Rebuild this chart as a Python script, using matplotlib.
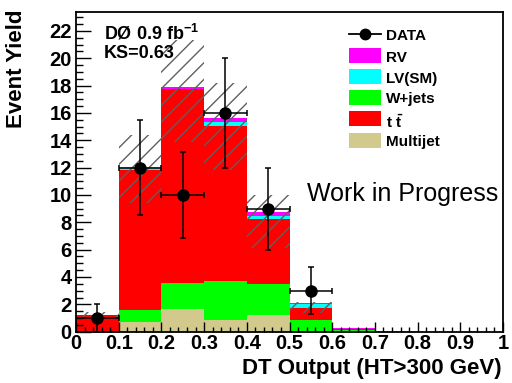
import numpy as np
import matplotlib.pyplot as plt
from matplotlib.lines import Line2D
from matplotlib.patches import Rectangle
from matplotlib.ticker import MultipleLocator, FuncFormatter

plt.rcParams['font.family'] = ['Liberation Sans', 'DejaVu Sans']
plt.rcParams['font.weight'] = 'bold'
plt.rcParams['mathtext.fontset'] = 'custom'
plt.rcParams['mathtext.rm'] = 'Liberation Sans:bold'
plt.rcParams['mathtext.bf'] = 'Liberation Sans:bold'
plt.rcParams['mathtext.default'] = 'bf'
plt.rcParams['hatch.linewidth'] = 1.0

# --- histogram contents, DT output bins of width 0.1 ---
bin_edges = [0.0, 0.1, 0.2, 0.3, 0.4, 0.5, 0.6, 0.7, 0.8, 0.9, 1.0]

multijet = [0.0, 0.69, 1.68, 0.86, 1.22, 0.0, 0.0, 0.0, 0.0, 0.0]
wjets    = [0.0, 0.90, 1.86, 2.87, 2.25, 0.86, 0.12, 0.0, 0.0, 0.0]
ttbar    = [1.22, 10.24, 14.19, 11.34, 4.75, 0.90, 0.08, 0.0, 0.0, 0.0]
lv_sm    = [0.0, 0.18, 0.04, 0.29, 0.27, 0.24, 0.03, 0.06, 0.0, 0.0]
rv       = [0.0, 0.04, 0.15, 0.25, 0.24, 0.12, 0.07, 0.0, 0.0, 0.0]

# systematic band on the total prediction
band_lo = [0.95, 9.41, 13.88, 11.83, 6.12, 1.37, 0.0, 0.0, 0.0, 0.0]
band_hi = [1.45, 14.39, 21.34, 18.17, 10.00, 2.20, 0.0, 0.0, 0.0, 0.0]

# observed events (only non-empty bins are drawn)
data_x   = [0.05, 0.15, 0.25, 0.35, 0.45, 0.55]
data_y   = [1, 12, 10, 16, 9, 3]
data_err = [1.0, 3.46, 3.16, 4.0, 3.0, 1.73]
data_xerr = 0.05

stack = [
    ('Multijet', multijet, '#d2c98c'),
    ('W+jets', wjets, '#00ff00'),
    (r'$t\;\bar{t}$', ttbar, '#ff0000'),
    ('LV(SM)', lv_sm, '#00ffff'),
    ('RV', rv, '#ff00ff'),
]

W, H = 512, 383
fig = plt.figure(figsize=(W / 100, H / 100), dpi=100)
fig.patch.set_facecolor('white')


def fpos(x, y):
    """pixel position -> figure fraction"""
    return x / W, 1 - y / H


ax = fig.add_axes([76 / W, 1 - 331.7 / H, (503 - 76) / W, (331.7 - 11.7) / H])

left = np.array(bin_edges[:-1])
width = np.diff(bin_edges)
bottom = np.zeros(len(left))
for name, vals, col in stack:
    vals = np.array(vals)
    ax.bar(left, vals, width=width, bottom=bottom, align='edge',
           color=col, linewidth=0, zorder=1)
    bottom += vals

lo = np.array(band_lo)
hi = np.array(band_hi)
ax.bar(left, hi - lo, width=width, bottom=lo, align='edge', fill=False,
       hatch='//', edgecolor='#606060', linewidth=0, zorder=2)

ax.errorbar(data_x, data_y, yerr=data_err, xerr=data_xerr, fmt='o',
            color='black', markersize=8, elinewidth=1.1, capsize=2.2,
            capthick=1.1, zorder=3)

ax.set_xlim(0, 1)
ax.set_ylim(0, 23.4)
ax.xaxis.set_major_locator(MultipleLocator(0.1))
ax.xaxis.set_minor_locator(MultipleLocator(0.02))
ax.yaxis.set_major_locator(MultipleLocator(2))
ax.yaxis.set_minor_locator(MultipleLocator(0.5))
ax.xaxis.set_major_formatter(FuncFormatter(lambda v, _: f'{v:g}'))
ax.tick_params(direction='in', which='both', top=False, right=False,
               labelsize=14.5, width=1.0)
ax.tick_params(axis='x', which='major', length=7.2, pad=1.5)
ax.tick_params(axis='x', which='minor', length=3.6)
ax.tick_params(axis='y', which='major', length=10.5, pad=3)
ax.tick_params(axis='y', which='minor', length=5)
for sp in ax.spines.values():
    sp.set_linewidth(1.3)

# axis titles, ROOT style (aligned to the axis ends)
fig.text(*fpos(502, 374), 'DT Output (HT>300 GeV)', ha='right',
         va='baseline', fontsize=16)
fig.text(*fpos(17, 10), 'Event Yield', rotation=90, ha='center',
         va='top', fontsize=16)

fig.text(*fpos(104, 39), r'DØ 0.9 fb$^{-1}$', fontsize=13, va='baseline')
fig.text(*fpos(104, 58), 'KS=0.63', fontsize=13, va='baseline')

fig.text(*fpos(307, 201), 'Work in Progress', fontsize=18,
         fontweight='normal', va='baseline')

# legend
lx0, lx1, tx = 349, 381, 386
fig.add_artist(Line2D([lx0 / W, lx1 / W], [1 - 34 / H, 1 - 34 / H],
                      color='black', lw=1.3, transform=fig.transFigure))
fig.add_artist(Line2D([(lx0 + lx1) / 2 / W], [1 - 34 / H], marker='o',
                      color='black', markersize=7.5,
                      transform=fig.transFigure))
fig.text(*fpos(tx, 40), 'DATA', fontsize=11, va='baseline')

legend_rows = [('RV', '#ff00ff', 55.5, 61.5),
               ('LV(SM)', '#00ffff', 76.5, 82.5),
               ('W+jets', '#00ff00', 97.8, 103.5),
               (r'$t\;\bar{t}$', '#ff0000', 118.8, 128),
               ('Multijet', '#d2c98c', 140, 145.5)]
for label, col, yc, yb in legend_rows:
    fig.add_artist(Rectangle(fpos(lx0, yc + 7.5), (lx1 - lx0) / W, 15 / H,
                             facecolor=col, edgecolor='none',
                             transform=fig.transFigure))
    fig.text(*fpos(tx, yb), label, fontsize=11, va='baseline')

fig.savefig('out.png', dpi=100)
